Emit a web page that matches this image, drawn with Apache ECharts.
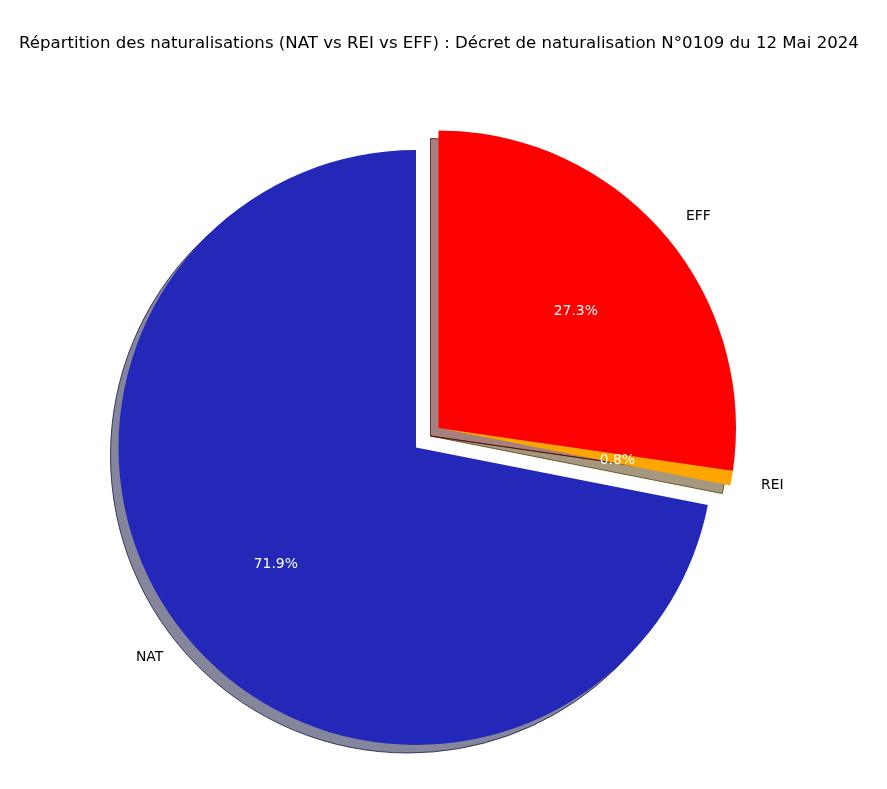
<!DOCTYPE html>
<html>
<head>
<meta charset="utf-8">
<title>Répartition des naturalisations</title>
<script src="https://cdn.jsdelivr.net/npm/echarts@6/dist/echarts.min.js"></script>
<style>
  html, body { margin: 0; padding: 0; background: #fff; }
  #chart { width: 887px; height: 789px; }
</style>
</head>
<body>
<div id="chart"></div>
<script>
// données du décret
var categories = ['NAT', 'REI', 'EFF'];
var counts = [719, 8, 273];
var colors = ['#2428b8', '#ffa500', '#ff0000'];
var shadowColors = ['rgba(11,12,55,0.5)', 'rgba(77,50,0,0.5)', 'rgba(77,0,0,0.5)'];
var shadowEdges = ['rgba(11,12,55,0.75)', 'rgba(77,50,0,0.75)', 'rgba(77,0,0,0.75)'];
// REI et EFF sont décalés ensemble
var exploded = [false, true, true];

var R = 297.5;
var baseCenter = [416, 447.5];
var explodeCenter = [438.5, 428];
var shadowShift = [-8, 8];
var font = 'DejaVu Sans';

function shifted(c) {
  return [c[0] + shadowShift[0], c[1] + shadowShift[1]];
}

// one data list per group, the other slices stay transparent
function buildData(group, palette, edges, showLabel) {
  return categories.map(function (name, i) {
    var mine = exploded[i] === group;
    return {
      name: name,
      value: counts[i],
      itemStyle: {
        color: mine && palette ? palette[i] : 'rgba(0,0,0,0)',
        borderColor: mine && edges ? edges[i] : 'rgba(0,0,0,0)',
        borderWidth: mine && edges ? 1 : 0
      },
      label: { show: mine && showLabel }
    };
  });
}

function pie(center, radius, data, label, z) {
  return {
    type: 'pie',
    center: center,
    radius: radius,
    startAngle: 90,
    clockwise: false,
    avoidLabelOverlap: false,
    silent: true,
    animation: false,
    z: z,
    percentPrecision: 1,
    emphasis: { disabled: true },
    label: label,
    labelLine: { show: false, length: 0.1 * R, length2: 0 },
    data: data
  };
}

var nameLabel = {
  position: 'outside',
  formatter: '{b}',
  color: '#000',
  fontFamily: font,
  fontSize: 13.9,
  distanceToLabelLine: 0,
  offset: [0, 2]
};
var pctLabel = {
  position: 'inside',
  formatter: '{d}%',
  color: '#fff',
  fontFamily: font,
  fontSize: 13.9,
  offset: [0, 2]
};
var noLabel = { show: false };

var chart = echarts.init(document.getElementById('chart'), null, { renderer: 'canvas' });

var option = {
  backgroundColor: '#fff',
  animation: false,
  title: {
    text: 'Répartition des naturalisations (NAT vs REI vs EFF) : Décret de naturalisation N°0109 du 12 Mai 2024',
    left: 14,
    top: 30,
    textStyle: { fontFamily: font, fontSize: 16.6, fontWeight: 'normal', color: '#000' }
  },
  series: [
    // ombres
    pie(shifted(baseCenter), R, buildData(false, shadowColors, shadowEdges, false), noLabel, 1),
    pie(shifted(explodeCenter), R, buildData(true, shadowColors, shadowEdges, false), noLabel, 1),
    // parts
    pie(baseCenter, R, buildData(false, colors, null, true), nameLabel, 2),
    pie(explodeCenter, R, buildData(true, colors, null, true), nameLabel, 2),
    // pourcentages a 0.6 du rayon
    pie(baseCenter, 1.2 * R, buildData(false, null, null, true), pctLabel, 3),
    pie(explodeCenter, 1.2 * R, buildData(true, null, null, true), pctLabel, 3)
  ]
};
chart.setOption(option);
</script>
</body>
</html>
